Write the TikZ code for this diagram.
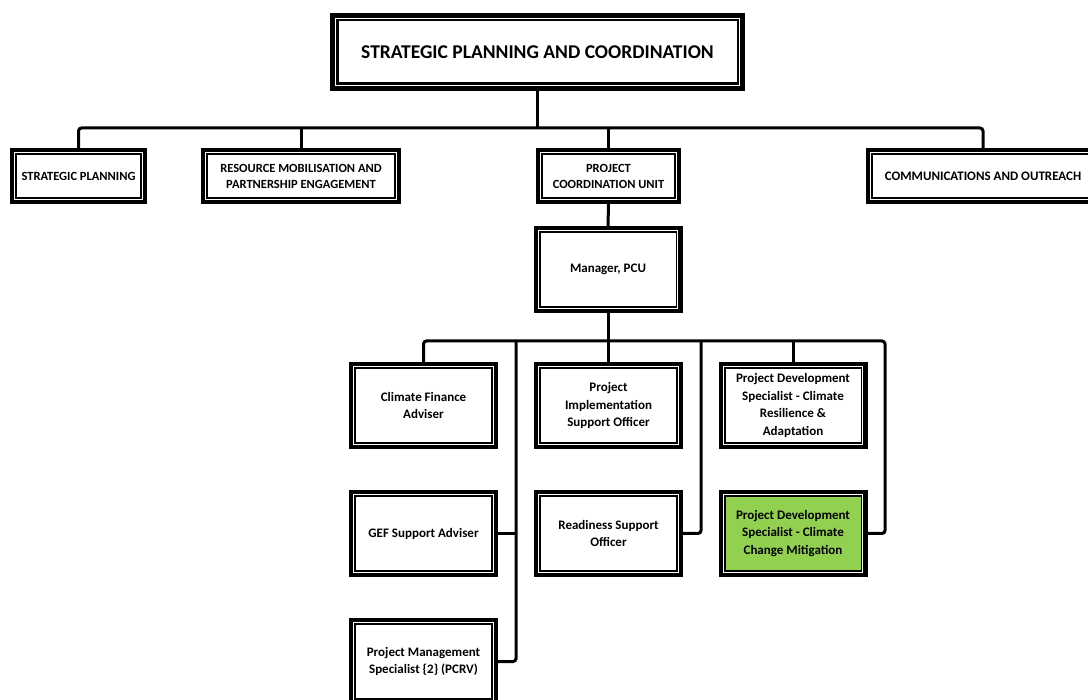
\documentclass[tikz,border=0pt]{standalone}
\usepackage{fontspec}
\setmainfont{Carlito}
\definecolor{pdsgreen}{HTML}{92D050}
\begin{document}
\begin{tikzpicture}[x=1pt,y=-1pt,
  every node/.style={inner sep=0pt, outer sep=0pt, align=center, font=\bfseries},
  box/.style={draw=black, fill=white, line width=7pt},
  bigbox/.style={draw=black, fill=white, line width=8.5pt, minimum width=406.5pt, minimum height=69.5pt, font=\fontsize{19.5}{22}\selectfont\bfseries},
  unitbox/.style={box, minimum height=49pt, font=\fontsize{12.5}{16}\selectfont\bfseries},
  rolebox/.style={box, minimum width=142pt, minimum height=80pt, font=\fontsize{13}{17.4}\selectfont\bfseries},
  link/.style={draw=black, line width=3pt},
  inner/.style={draw=white, line width=1pt}]
\useasboundingbox (0,0) rectangle (1088,700);
\fill[white] (0,0) rectangle (1088,700);

% nodes
\node[bigbox] (top) at (537.5,52) {STRATEGIC PLANNING AND COORDINATION};
\node[unitbox, minimum width=130pt] (sp) at (78.5,176) {STRATEGIC PLANNING};
\node[unitbox, minimum width=193pt] (rm) at (301,176) {RESOURCE MOBILISATION AND\\PARTNERSHIP ENGAGEMENT};
\node[unitbox, minimum width=138pt] (pcu) at (608.5,176) {PROJECT\\COORDINATION UNIT};
\node[unitbox, minimum width=227pt, font=\fontsize{13}{16}\selectfont\bfseries] (comm) at (983,176) {COMMUNICATIONS AND OUTREACH};
\node[rolebox] (mgr) at (608,269.5) {Manager, PCU};
\node[rolebox] (cfa) at (423.5,405.5) {Climate Finance\\Adviser};
\node[rolebox] (pis) at (608.5,405.5) {Project\\Implementation\\Support Officer};
\node[rolebox] (cra) at (793,405.5) {Project Development\\Specialist - Climate\\Resilience \&\\Adaptation};
\node[rolebox] (gef) at (423.5,533.5) {GEF Support Adviser};
\node[rolebox] (rso) at (608.5,533.5) {Readiness Support\\Officer};
\node[rolebox, fill=pdsgreen] (ccm) at (793,533.5) {Project Development\\Specialist - Climate\\Change Mitigation};
\node[rolebox] (pms) at (423.5,661.5) {Project Management\\Specialist \{2\} (PCRV)};

% inner white rules of the borders
\foreach \n in {top,sp,rm,pcu,comm,mgr,cfa,pis,cra,gef,rso,ccm,pms}
  \draw[inner] ([shift={(1.1,1.1)}]\n.north west) rectangle ([shift={(-1.1,-1.1)}]\n.south east);

% level-1 connectors
\coordinate (b1) at (537.5,128);
\draw[link] (top.south) -- (b1);
\draw[link, rounded corners=3pt] (sp.north) -- (sp.north |- b1) -- (comm.north |- b1) -- (comm.north);
\draw[link] (rm.north) -- (rm.north |- b1);
\draw[link] (pcu.north) -- (pcu.north |- b1);

% PCU to manager
\draw[link] (pcu.south) -- (mgr.north);

% level-2 connectors
\coordinate (b2) at (608,341);
\coordinate (vl) at (516,341);
\coordinate (vm) at (701,341);
\coordinate (vr) at (885,341);
\draw[link] (mgr.south) -- (b2);
\draw[link, rounded corners=3pt] (cfa.north) -- (cfa.north |- b2) -- (vr) |- (ccm.east);
\draw[link] (pis.north) -- (pis.north |- b2);
\draw[link] (cra.north) -- (cra.north |- b2);
\draw[link, rounded corners=3pt] (vl) |- (pms.east);
\draw[link] (gef.east) -- (gef.east -| vl);
\draw[link, rounded corners=3pt] (vm) |- (rso.east);
\end{tikzpicture}
\end{document}
